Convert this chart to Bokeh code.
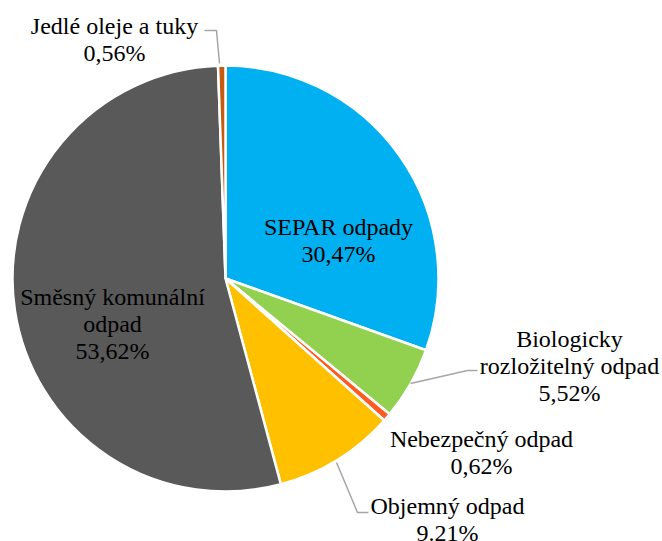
import math
from bokeh.plotting import figure
from bokeh.models import Range1d, ColumnDataSource
from bokeh.core.properties import value
from bokeh.embed import file_html
from bokeh.resources import INLINE

# ---- data ----
categories = ["SEPAR odpady", "Biologicky rozložitelný odpad", "Nebezpečný odpad",
              "Objemný odpad", "Směsný komunální odpad", "Jedlé oleje a tuky"]
values = [30.47, 5.52, 0.62, 9.21, 53.62, 0.56]
value_labels = ["30,47%", "5,52%", "0,62%", "9.21%", "53,62%", "0,56%"]
label_lines = [["SEPAR odpady"], ["Biologicky", "rozložitelný odpad"], ["Nebezpečný odpad"],
               ["Objemný odpad"], ["Směsný komunální", "odpad"], ["Jedlé oleje a tuky"]]
colors = ["#00B0F0", "#92D050", "#FF5A1F", "#FFC000", "#595959", "#C55A11"]

# ---- layout (page pixels) ----
W, H = 662, 541
CX, CY, R = 225, 278, 213
label_pos = [(338, 226.5), (569, 338), (481, 438), (447, 505), (112, 296), (114, 25)]
LINE_H = 27
leaders = [[(410, 383), (467, 370), (477, 370)],
           [(336, 462), (357, 512), (368, 512)],
           [(204, 30), (216, 30), (219, 63)]]

def Y(py):
    return H - py

p = figure(width=W, height=H, output_backend="svg", toolbar_location=None,
           x_range=Range1d(0, W), y_range=Range1d(0, H),
           min_border=0, outline_line_color=None)
p.axis.visible = False
p.grid.visible = False

total = sum(values)
starts, ends = [], []
a = math.pi / 2
for v in values:
    ang = v / total * 2 * math.pi
    starts.append(a)
    ends.append(a - ang)
    a -= ang

src = ColumnDataSource(dict(start=starts, end=ends, color=colors, cat=categories))
p.wedge(x=CX, y=Y(CY), radius=R, start_angle="start", end_angle="end",
        direction="clock", fill_color="color", line_color="white", line_width=2.5,
        source=src)

p.multi_line(xs=[[q[0] for q in pts] for pts in leaders],
             ys=[[Y(q[1]) for q in pts] for pts in leaders],
             line_color="#A6A6A6", line_width=1.5)

F = value("Liberation Serif")
for i in range(len(categories)):
    lx, ly = label_pos[i]
    lines = label_lines[i] + [value_labels[i]]
    for k, t in enumerate(lines):
        p.text(x=[lx], y=[Y(ly + k * LINE_H)], text=[t], text_align="center",
               text_baseline="middle", text_font=F, text_font_size="24px",
               text_color="#000000")

open("out.html", "w").write(file_html(p, INLINE))
